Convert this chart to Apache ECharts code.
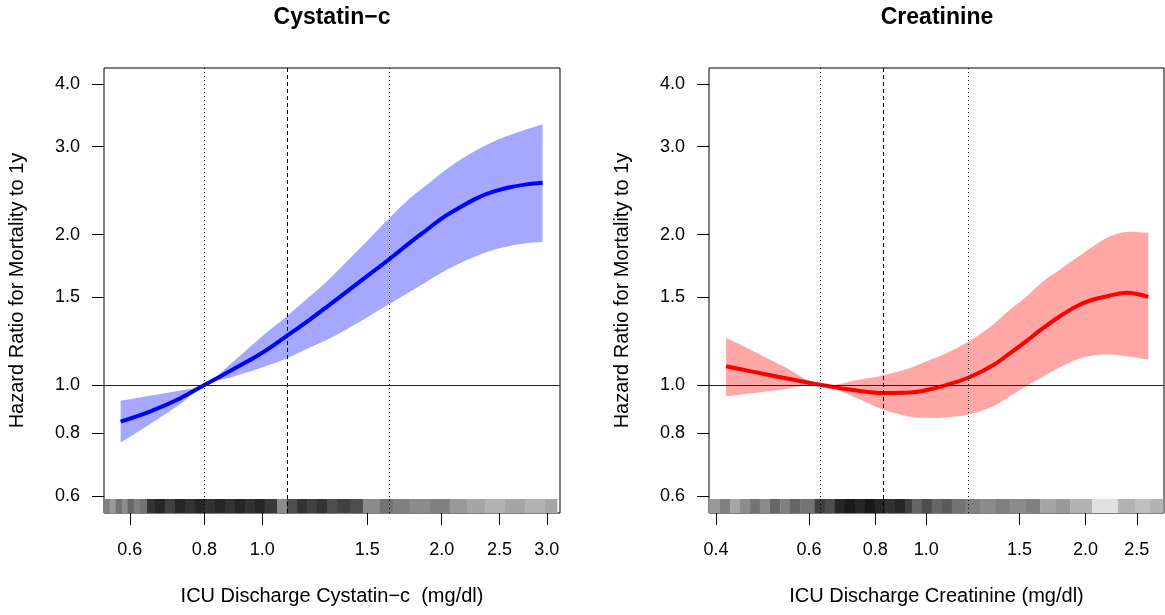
<!DOCTYPE html>
<html>
<head>
<meta charset="utf-8">
<script src="https://cdn.jsdelivr.net/npm/echarts@6/dist/echarts.min.js"></script>
<style>
html,body{margin:0;padding:0;background:#fff;}
#chart{width:1165px;height:615px;}
</style>
</head>
<body>
<div id="chart"></div>
<script>
// ---- Data ----
// Cystatin-c panel
const cysX  = [0.579, 0.648, 0.728, 0.8, 0.894, 0.991, 1.101, 1.202, 1.282, 1.458, 1.633, 1.769, 1.886, 2.012, 2.146, 2.288, 2.44, 2.602, 2.775, 2.952];
const cysHR = [0.845, 0.885, 0.94, 1.0, 1.075, 1.152, 1.255, 1.352, 1.432, 1.61, 1.785, 1.927, 2.043, 2.166, 2.268, 2.364, 2.437, 2.487, 2.521, 2.54];
const cysUp = [0.93, 0.952, 0.975, 1.0, 1.113, 1.24, 1.374, 1.505, 1.61, 1.877, 2.156, 2.364, 2.513, 2.672, 2.82, 2.953, 3.069, 3.165, 3.249, 3.324];
const cysLo = [0.767, 0.835, 0.915, 1.0, 1.039, 1.08, 1.131, 1.188, 1.23, 1.339, 1.452, 1.537, 1.61, 1.686, 1.752, 1.812, 1.863, 1.898, 1.921, 1.935];
const cysRefDotted = [0.8, 1.63];
const cysRefDashed = [1.1];
// rug bins: [start, end, darkness]
const cysRug = [
  [0.543,0.555,0.5],[0.555,0.568,0.4],[0.568,0.582,0.55],[0.582,0.595,0.45],[0.595,0.609,0.6],
  [0.609,0.624,0.5],[0.624,0.641,0.55],[0.641,0.661,0.8],[0.661,0.687,0.85],[0.687,0.714,0.75],
  [0.714,0.742,0.85],[0.742,0.771,0.8],[0.771,0.801,0.85],[0.801,0.833,0.8],[0.833,0.866,0.85],
  [0.866,0.9,0.8],[0.9,0.935,0.85],[0.935,0.972,0.8],[0.972,1.01,0.85],[1.01,1.059,0.78],
  [1.059,1.1,0.45],[1.1,1.144,0.7],[1.144,1.189,0.8],[1.189,1.235,0.75],[1.235,1.284,0.8],
  [1.284,1.335,0.7],[1.335,1.403,0.75],[1.403,1.475,0.7],[1.475,1.575,0.45],[1.575,1.656,0.55],
  [1.656,1.769,0.5],[1.769,1.91,0.45],[1.91,2.063,0.5],[2.063,2.204,0.4],[2.204,2.362,0.35],
  [2.362,2.552,0.3],[2.552,2.757,0.35],[2.757,2.979,0.3],[2.979,3.122,0.35]
];
const cysXTicks = [0.6, 0.8, 1.0, 1.5, 2.0, 2.5, 3.0];

// Creatinine panel
const creX  = [0.418, 0.464, 0.536, 0.633, 0.749, 0.827, 0.931, 1.001, 1.077, 1.2, 1.338, 1.44, 1.548, 1.664, 1.79, 1.924, 2.069, 2.225, 2.392, 2.629];
const creHR = [1.09, 1.066, 1.034, 1.0, 0.973, 0.964, 0.966, 0.977, 0.996, 1.034, 1.096, 1.158, 1.226, 1.301, 1.373, 1.438, 1.483, 1.51, 1.529, 1.501];
const creUp = [1.243, 1.178, 1.09, 1.0, 1.026, 1.045, 1.082, 1.116, 1.151, 1.22, 1.322, 1.416, 1.506, 1.614, 1.703, 1.797, 1.896, 1.985, 2.025, 2.016];
const creLo = [0.95, 0.962, 0.98, 1.0, 0.935, 0.893, 0.864, 0.86, 0.86, 0.873, 0.907, 0.95, 0.995, 1.04, 1.085, 1.125, 1.146, 1.151, 1.142, 1.125];
const creRefDotted = [0.633, 1.2];
const creRefDashed = [0.827];
const creRug = [
  [0.388,0.407,0.4],[0.407,0.425,0.5],[0.425,0.444,0.35],[0.444,0.464,0.45],[0.464,0.484,0.55],
  [0.484,0.506,0.45],[0.506,0.529,0.6],[0.529,0.552,0.5],[0.552,0.577,0.6],[0.577,0.615,0.55],
  [0.615,0.643,0.75],[0.643,0.671,0.7],[0.671,0.701,0.85],[0.701,0.732,0.9],[0.732,0.765,0.85],
  [0.765,0.799,0.9],[0.799,0.835,0.85],[0.835,0.872,0.8],[0.872,0.911,0.85],[0.911,0.939,0.75],
  [0.939,0.98,0.6],[0.98,1.024,0.7],[1.024,1.07,0.6],[1.07,1.117,0.65],[1.117,1.183,0.55],
  [1.183,1.263,0.5],[1.263,1.349,0.45],[1.349,1.44,0.5],[1.44,1.538,0.45],[1.538,1.642,0.5],
  [1.642,1.753,0.35],[1.753,1.872,0.4],[1.872,2.057,0.3],[2.057,2.303,0.12],[2.303,2.48,0.3],
  [2.48,2.648,0.25],[2.648,2.804,0.3]
];
const creXTicks = [0.4, 0.6, 0.8, 1.0, 1.5, 2.0, 2.5];

const yTicks = [0.6, 0.8, 1.0, 1.5, 2.0, 3.0, 4.0];

// ---- Chart ----
const FONT = '"Liberation Sans", Arial, Helvetica, sans-serif';
const chart = echarts.init(document.getElementById('chart'), null, {renderer: 'canvas'});
const SMOOTH = 0.35;

// confidence band drawn as one smoothed polygon (ends kept square)
function bandSeries(idx, xs, lo, up, color) {
  return {
    type: 'custom', xAxisIndex: idx, yAxisIndex: idx, silent: true, z: 1, clip: true,
    data: [[xs[0], lo[0]]],
    renderItem: function (params, api) {
      const n = xs.length;
      const U = xs.map((x, i) => api.coord([x, up[i]]));
      const L = xs.map((x, i) => api.coord([x, lo[i]]));
      const pts = [U[0]].concat(U, [U[n - 1], L[n - 1]], L.slice().reverse(), [L[0]]);
      return {type: 'polygon', shape: {points: pts, smooth: SMOOTH}, style: {fill: color, stroke: null}};
    }
  };
}
function rugSeries(idx, bins) {
  return {
    type: 'custom', xAxisIndex: idx, yAxisIndex: idx, silent: true, z: 2, clip: true,
    encode: {x: [0, 1]},
    data: bins.map(b => [b[0], b[1], b[2]]),
    renderItem: function (params, api) {
      const a = api.coord([api.value(0), 1]);
      const b = api.coord([api.value(1), 1]);
      const cs = params.coordSys;
      const bottom = cs.y + cs.height;
      const g = Math.round(255 * (1 - api.value(2)));
      return {type: 'rect', shape: {x: a[0], y: bottom - 14, width: b[0] - a[0] + 0.3, height: 14},
              style: {fill: 'rgb(' + g + ',' + g + ',' + g + ')'}};
    }
  };
}
function refSeries(idx, dotted, dashed) {
  const data = [];
  dotted.forEach(v => data.push({xAxis: v, lineStyle: {type: [1, 3], color: '#000', width: 1}}));
  dashed.forEach(v => data.push({xAxis: v, lineStyle: {type: [4, 3], color: '#000', width: 1}}));
  data.push({yAxis: 1, lineStyle: {type: 'solid', color: '#222', width: 1}});
  return {
    type: 'line', xAxisIndex: idx, yAxisIndex: idx, silent: true, z: 3, data: [],
    markLine: {silent: true, symbol: ['none', 'none'], label: {show: false}, animation: false, data: data}
  };
}
function curveSeries(idx, xs, ys, color) {
  return {
    type: 'line', xAxisIndex: idx, yAxisIndex: idx, silent: true, z: 4,
    data: xs.map((x, i) => [x, ys[i]]), showSymbol: false, symbol: 'none', smooth: SMOOTH,
    lineStyle: {color: color, width: 4}
  };
}
function xAxis(idx, min, max, ticks, name) {
  return {
    type: 'log', gridIndex: idx, min: min, max: max,
    name: name, nameLocation: 'middle', nameGap: 73,
    nameTextStyle: {fontFamily: FONT, fontSize: 20, color: '#000'},
    axisLine: {show: false},
    splitLine: {show: false}, minorTick: {show: false},
    axisTick: {show: true, length: 12, customValues: ticks, lineStyle: {color: '#000', width: 1}},
    axisLabel: {customValues: ticks, margin: 28, fontFamily: FONT, fontSize: 18, color: '#000',
                formatter: v => Number(v).toFixed(1)}
  };
}
function yAxis(idx) {
  return {
    type: 'log', gridIndex: idx, min: 0.5544, max: 4.31,
    name: 'Hazard Ratio for Mortality to 1y', nameLocation: 'middle', nameGap: 77, nameRotate: 90,
    nameTextStyle: {fontFamily: FONT, fontSize: 20, color: '#000'},
    axisLine: {show: false},
    splitLine: {show: false}, minorTick: {show: false},
    axisTick: {show: true, length: 12, customValues: yTicks, lineStyle: {color: '#000', width: 1}},
    axisLabel: {customValues: yTicks, margin: 24, fontFamily: FONT, fontSize: 18, color: '#000',
                formatter: v => Number(v).toFixed(1)}
  };
}

chart.setOption({
  animation: false,
  backgroundColor: '#fff',
  title: [
    {text: 'Cystatin\u2212c', left: 332, top: 6, textAlign: 'center', padding: 0,
     textStyle: {fontFamily: FONT, fontSize: 23, fontWeight: 'bold', color: '#000'}},
    {text: 'Creatinine', left: 937, top: 6, textAlign: 'center', padding: 0,
     textStyle: {fontFamily: FONT, fontSize: 23, fontWeight: 'bold', color: '#000'}}
  ],
  grid: [
    {left: 104, top: 68, width: 456, height: 445, show: true, borderColor: '#000', borderWidth: 1, backgroundColor: 'transparent'},
    {left: 709, top: 68, width: 455, height: 445, show: true, borderColor: '#000', borderWidth: 1, backgroundColor: 'transparent'}
  ],
  xAxis: [
    xAxis(0, 0.543, 3.157, cysXTicks, 'ICU Discharge Cystatin\u2212c  (mg/dl)'),
    xAxis(1, 0.388, 2.815, creXTicks, 'ICU Discharge Creatinine (mg/dl)')
  ],
  yAxis: [yAxis(0), yAxis(1)],
  series: [
    bandSeries(0, cysX, cysLo, cysUp, 'rgb(166,168,255)'),
    rugSeries(0, cysRug), refSeries(0, cysRefDotted, cysRefDashed), curveSeries(0, cysX, cysHR, '#0000FF'),
    bandSeries(1, creX, creLo, creUp, 'rgb(255,166,166)'),
    rugSeries(1, creRug), refSeries(1, creRefDotted, creRefDashed), curveSeries(1, creX, creHR, '#FF0000')
  ]
});
</script>
</body>
</html>
